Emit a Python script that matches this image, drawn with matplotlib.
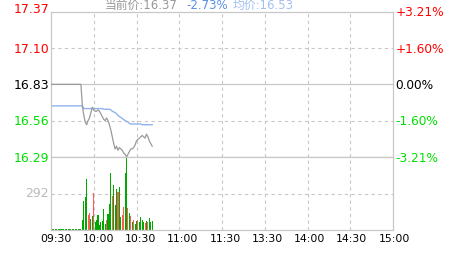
import numpy as np
import matplotlib
matplotlib.use("Agg")
import matplotlib.pyplot as plt
import matplotlib.transforms as mtransforms

# --- data (one value per minute from 09:30) ---
price = [16.83] * 22 + [
    16.67, 16.60, 16.55, 16.53, 16.56, 16.58, 16.62, 16.66, 16.64, 16.63,
    16.63, 16.64, 16.63, 16.61, 16.59, 16.57, 16.56, 16.58, 16.56, 16.53,
    16.49, 16.44, 16.39, 16.35, 16.37, 16.34, 16.36, 16.35, 16.34, 16.32,
    16.31, 16.29, 16.31, 16.33, 16.35, 16.35, 16.36, 16.38, 16.41, 16.42,
    16.43, 16.44, 16.45, 16.44, 16.43, 16.46, 16.44, 16.41, 16.39, 16.37]
avg_price = [16.67] * 23 + [16.65] * 14 + [16.645] * 5 + [
    16.64, 16.63, 16.625, 16.62, 16.61, 16.60, 16.59, 16.585, 16.575, 16.57,
    16.56, 16.555, 16.55, 16.54] + [16.535] * 8 + [16.53] * 8
volume = [6] * 22 + [
    82, 230, 262, 408, 120, 138, 88, 110, 294, 66,
    82, 122, 40, 66, 74, 168, 50, 80, 128, 208,
    456, 274, 360, 200, 328, 302, 342, 101, 120, 182,
    454, 584, 176, 134, 115, 62, 80, 48, 70, 80,
    62, 107, 80, 62, 54, 70, 62, 96, 62, 75]
up_minutes = [26, 27, 30, 39, 43, 47, 50, 51, 54, 56, 58, 61, 66, 68]

prev_close = 16.83
price_ticks = [17.37, 17.10, 16.83, 16.56, 16.29]
pct_labels = ["+3.21%", "+1.60%", "0.00%", "-1.60%", "-3.21%"]
vol_tick = 292
time_labels = ["09:30", "10:00", "10:30", "11:00", "11:30",
               "13:30", "14:00", "14:30", "15:00"]
cur_price = 16.37
cur_pct = "-2.73%"
cur_avg = 16.53

# --- figure ---
W, H = 463, 255
fig = plt.figure(figsize=(W / 100, H / 100), dpi=100)
fig.patch.set_facecolor("white")

left, right = 51, 393
top, mid, bottom = 12.7, 158, 231
ax = fig.add_axes([left / W, 1 - mid / H, (right - left) / W, (mid - top) / H])
axv = fig.add_axes([left / W, 1 - bottom / H, (right - left) / W, (bottom - mid) / H])

grid_c = "#c8c8c8"
for a in (ax, axv):
    a.set_xlim(0, 240)
    a.set_xticks([])
    a.set_yticks([])
    for s in a.spines.values():
        s.set_color(grid_c)
        s.set_linewidth(0.9)
    for t in range(30, 240, 30):
        a.axvline(t, color=grid_c, lw=0.8, ls=(0, (3, 3)), zorder=0)

ax.set_ylim(price_ticks[-1], price_ticks[0])
ax.axhline(prev_close, color=grid_c, lw=0.9, zorder=0)
for p in (17.10, 16.56):
    ax.axhline(p, color=grid_c, lw=0.8, ls=(0, (3, 3)), zorder=0)

minutes = np.arange(len(price))
ax.plot(minutes, avg_price, color="#8fb3ee", lw=1.0, zorder=2)
ax.plot(minutes, price, color="#9a9a9a", lw=0.9, zorder=3)

axv.set_ylim(0, vol_tick * 2)
axv.axhline(vol_tick, color=grid_c, lw=0.8, ls=(0, (3, 3)), zorder=0)
bar_colors = ["#ff5a5a" if m in up_minutes else "#00a800" for m in range(len(volume))]
axv.bar(np.arange(len(volume)), volume, width=0.75, color=bar_colors,
        linewidth=0, antialiased=False, zorder=2)

# left price labels, right percent labels
lab_colors = ["#ff0000", "#ff0000", "#000000", "#00e000", "#00e000"]
for p, pct, c in zip(price_ticks, pct_labels, lab_colors):
    ypx = 1 - (mid - (p - price_ticks[-1]) / (price_ticks[0] - price_ticks[-1]) * (mid - top)) / H
    yl = ypx + (3.5 / H if p == price_ticks[0] else 0)
    fig.text(49 / W, yl, f"{p:.2f}", color=c, fontsize=9, ha="right", va="center")
    fig.text(395.5 / W, ypx, pct, color=c, fontsize=8.7, ha="left", va="center")
fig.text(49 / W, 1 - 193.7 / H, str(vol_tick), color="#bbbbbb", fontsize=9,
         ha="right", va="center")

# time labels
trans = mtransforms.blended_transform_factory(axv.transData, fig.transFigure)
for i, lab in enumerate(time_labels):
    axv.text(3.5 + i * 29.65, 1 - 239.5 / H, lab, transform=trans, fontsize=7.8,
             ha="center", va="center", color="#000000")

# header
fam = ["DejaVu Sans", "Noto Sans CJK SC"]
fig.text(105 / W, 1 - 5.5 / H, f"当前价:{cur_price:.2f}", color="#999999",
         fontsize=8.5, family=fam, ha="left", va="center")
fig.text(186.5 / W, 1 - 5.5 / H, cur_pct, color="#5c8fe6",
         fontsize=8.5, family=fam, ha="left", va="center")
fig.text(233 / W, 1 - 5.5 / H, f"均价:{cur_avg:.2f}", color="#a3c0f0",
         fontsize=8.5, family=fam, ha="left", va="center")

fig.savefig("out.png", dpi=100)
